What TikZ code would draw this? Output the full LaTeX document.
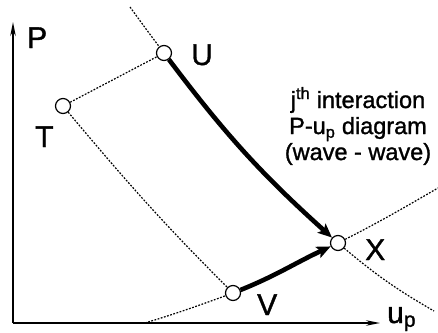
\documentclass[tikz,border=0pt]{standalone}
\usepackage{fontspec}
\setmainfont{Liberation Sans}[FakeBold=1.2]
\newfontfamily\heavy{Liberation Sans}[FakeBold=1.2]
\usetikzlibrary{arrows.meta}
\begin{document}
\begin{tikzpicture}[x=1pt,y=1pt,
  pt/.style={circle,draw,fill=white,line width=1.2pt,minimum size=15pt,inner sep=0pt},
  dots/.style={line width=1.2pt,dash pattern=on 1.8pt off 1.5pt},
  thick path/.style={line width=4.6pt,-{Stealth[length=14pt,width=12pt,inset=3pt]}},
  axis/.style={line width=1.4pt,-{Stealth[length=14pt,width=5.5pt]}},
  lab/.style={font=\heavy\fontsize{30}{30}\selectfont,inner sep=0pt,anchor=base west}]
\useasboundingbox (0,0) rectangle (438,-332);
% coordinates
\coordinate (O) at (13,-323);
\coordinate (ytip) at (13,-22);
\coordinate (xtip) at (380,-323);
\coordinate (ut) at (130,-7);
\coordinate (xe) at (434,-311);
\coordinate (vb) at (145,-323);
\coordinate (xe2) at (438,-188);
% axes
\draw[axis] (O) -- (ytip);
\draw[axis] (O) -- (xtip);
% points
\node[pt] (U) at (164,-53) {};
\node[pt] (T) at (63,-106) {};
\node[pt] (V) at (233,-293) {};
\node[pt] (X) at (338,-243) {};
% dotted curves
\draw[dots] (ut) to[out=-54,in=127] (U);
\draw[dots] (X) to[out=-40,in=150] (xe);
\draw[dots] (vb) to[out=17,in=200] (V);
\draw[dots] (X) to[out=27,in=210] (xe2);
\draw[dots] (T) -- (U);
\draw[dots] (T) to[out=-50,in=135] (V);
% thick arrows
\draw[thick path] (U) to[out=-53,in=138] (X);
\draw[thick path] (V) to[out=22,in=205] (X);
% labels
\node[lab] (lP) at (27,-48) {P};
\node[lab] (lU) at (191,-65) {U};
\node[lab] (lT) at (35,-147) {T};
\node[lab] (lV) at (257,-315) {V};
\node[lab] (lX) at (365,-260) {X};
\node[lab] (lu) at (387,-323) {u\textsubscript{p}};
\node[font=\heavy\fontsize{23.5}{26}\selectfont,align=center,inner sep=0pt] (txt) at (358,-126)
  {j\textsuperscript{th} interaction\\P-u\textsubscript{p} diagram\\(wave - wave)};
\end{tikzpicture}
\end{document}
